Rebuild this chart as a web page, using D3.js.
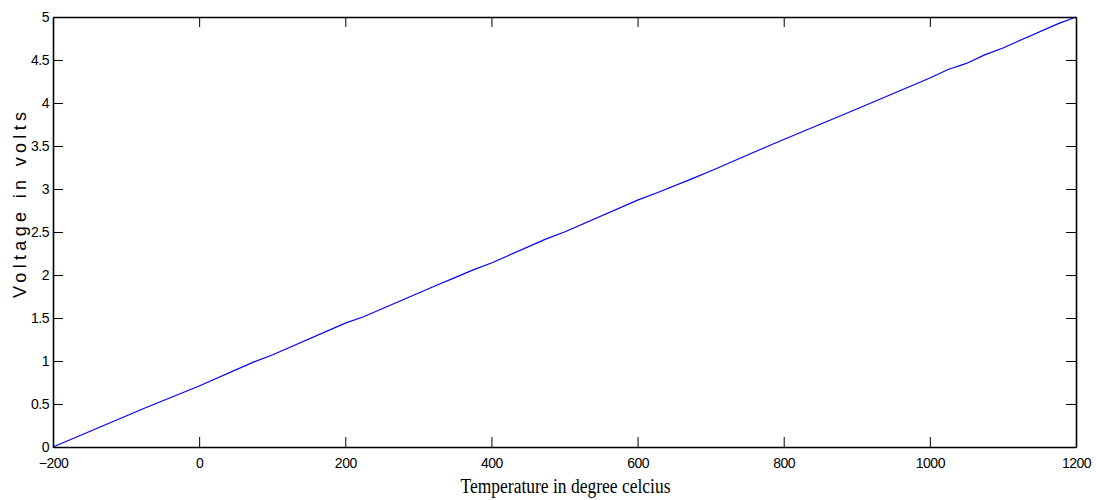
<!DOCTYPE html>
<html>
<head>
<meta charset="utf-8">
<script src="https://cdn.jsdelivr.net/npm/d3@7"></script>
<style>
  body { margin: 0; background: #fff; }
  svg text { font-family: "Liberation Sans", Arial, sans-serif; }
</style>
</head>
<body>
<svg id="chart" width="1096" height="500"></svg>
<script>
// readings
const temperature = [-200, -100, -75, 0, 75, 100, 200, 225, 325, 350, 375, 400, 475, 500,
                     600, 625, 675, 700, 775, 800, 900, 925, 1000, 1025, 1050, 1075, 1100, 1175, 1200]
const voltage = [0, 0.36, 0.45, 0.71, 0.99, 1.07, 1.44, 1.515, 1.88, 1.97, 2.06, 2.14, 2.42, 2.50,
                 2.87, 2.95, 3.12, 3.21, 3.485, 3.575, 3.93, 4.02, 4.29, 4.39, 4.46, 4.56, 4.64, 4.92, 5.0]
const xTicks = [-200, 0, 200, 400, 600, 800, 1000, 1200]
const yTicks = [0, 0.5, 1, 1.5, 2, 2.5, 3, 3.5, 4, 4.5, 5]

const data = temperature.map((t, i) => ({ t: t, v: voltage[i] }))

const box = { left: 53, right: 1076, top: 17, bottom: 447 }
const tickLen = 10

const x = d3.scaleLinear().domain([-200, 1200]).range([box.left, box.right])
const y = d3.scaleLinear().domain([0, 5]).range([box.bottom, box.top])

const svg = d3.select('#chart')

// data line
svg.append('path')
  .datum(data)
  .attr('fill', 'none')
  .attr('stroke', '#0000ff')
  .attr('stroke-width', 1.2)
  .attr('d', d3.line().x(d => x(d.t)).y(d => y(d.v)))

// axes, MATLAB style: ticks inward on all four sides
const styleAxis = g => {
  g.select('.domain').attr('stroke', '#000').attr('stroke-width', 1.6)
  g.selectAll('.tick line').attr('stroke', '#000').attr('stroke-width', 1)
  g.selectAll('.tick text')
    .attr('fill', '#000')
    .style('font-size', '14px')
    .style('letter-spacing', '-0.5px')
}

svg.append('g')
  .attr('transform', 'translate(0,' + box.bottom + ')')
  .call(d3.axisBottom(x).tickValues(xTicks).tickSize(-tickLen).tickSizeOuter(0).tickPadding(11).tickFormat(d3.format('d')))
  .call(styleAxis)

svg.append('g')
  .attr('transform', 'translate(0,' + box.top + ')')
  .call(d3.axisTop(x).tickValues(xTicks).tickSize(-tickLen).tickSizeOuter(0).tickFormat(''))
  .call(styleAxis)

svg.append('g')
  .attr('transform', 'translate(' + box.left + ',0)')
  .call(d3.axisLeft(y).tickValues(yTicks).tickSize(-tickLen).tickSizeOuter(0).tickPadding(4).tickFormat(d => String(d)))
  .call(styleAxis)

svg.append('g')
  .attr('transform', 'translate(' + box.right + ',0)')
  .call(d3.axisRight(y).tickValues(yTicks).tickSize(-tickLen).tickSizeOuter(0).tickFormat(''))
  .call(styleAxis)

// axis titles
svg.append('text')
  .attr('x', (box.left + box.right) / 2 + 1)
  .attr('y', 493)
  .attr('text-anchor', 'middle')
  .attr('textLength', 210)
  .attr('lengthAdjust', 'spacingAndGlyphs')
  .style('font-family', '"Liberation Serif", "Times New Roman", serif')
  .style('font-size', '20px')
  .text('Temperature in degree celcius')

svg.append('text')
  .attr('transform', 'translate(26,' + 205 + ') rotate(-90)')
  .attr('text-anchor', 'middle')
  .attr('textLength', 186)
  .attr('lengthAdjust', 'spacing')
  .style('font-size', '18px')
  .text('Voltage in volts')
</script>
</body>
</html>
